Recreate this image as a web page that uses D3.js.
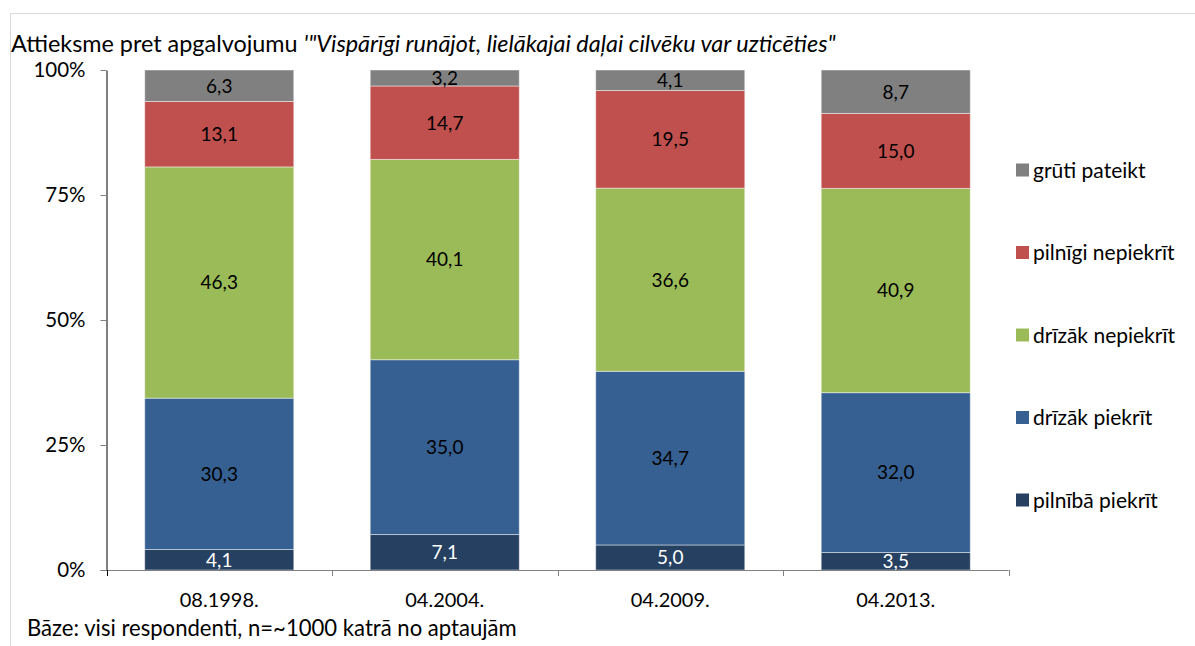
<!DOCTYPE html>
<html>
<head>
<meta charset="utf-8">
<script src="https://cdn.jsdelivr.net/npm/d3@7"></script>
<style>
  body { margin: 0; background: #fff; }
  svg { font-family: Lato, "Open Sans", sans-serif; }
</style>
</head>
<body>
<svg width="1195" height="646"></svg>
<script>
// data
const periods = ['08.1998.', '04.2004.', '04.2009.', '04.2013.'];
const answers = ['pilnībā piekrīt', 'drīzāk piekrīt', 'drīzāk nepiekrīt', 'pilnīgi nepiekrīt', 'grūti pateikt'];
const fullyAgree = [4.1, 7.1, 5.0, 3.5];
const ratherAgree = [30.3, 35.0, 34.7, 32.0];
const ratherDisagree = [46.3, 40.1, 36.6, 40.9];
const fullyDisagree = [13.1, 14.7, 19.5, 15.0];
const hardToSay = [6.3, 3.2, 4.1, 8.7];
const yTicks = [0, 0.25, 0.5, 0.75, 1];

const colors = ['#254061', '#376092', '#9bbb59', '#c0504d', '#808080'];
const labelColors = ['#fff', '#000', '#000', '#000', '#000'];

const svg = d3.select('svg');

const rows = periods.map((p, i) => ({
  period: p,
  [answers[0]]: fullyAgree[i],
  [answers[1]]: ratherAgree[i],
  [answers[2]]: ratherDisagree[i],
  [answers[3]]: fullyDisagree[i],
  [answers[4]]: hardToSay[i]
}));

// 100% stacked, like the spreadsheet does it
const stacked = d3.stack().keys(answers).offset(d3.stackOffsetExpand)(rows);

const plot = { left: 106.5, right: 1008.5, top: 70, bottom: 570 };

const xScale = d3.scaleBand()
  .domain(periods)
  .range([plot.left, plot.right])
  .paddingInner(0.339)
  .paddingOuter(0.1695);

const yScale = d3.scaleLinear().domain([0, 1]).range([plot.bottom, plot.top]);

// frame
svg.append('path')
  .attr('d', 'M10.5,646 V13.5 H1195')
  .attr('fill', 'none')
  .attr('stroke', '#d9d9d9')
  .attr('stroke-width', 1);

// title
const title = svg.append('text')
  .attr('x', 11)
  .attr('y', 52)
  .attr('font-size', 23.4)
  .attr('fill', '#000');
title.append('tspan').text('Attieksme pret apgalvojumu ');
title.append('tspan').attr('font-style', 'italic').text('\'"Vispārīgi runājot, lielākajai daļai cilvēku var uzticēties"');

// bars
const layers = svg.append('g').selectAll('g')
  .data(stacked)
  .join('g')
  .attr('fill', (d, i) => colors[i]);

layers.selectAll('rect')
  .data(d => d)
  .join('rect')
  .attr('x', d => xScale(d.data.period))
  .attr('width', xScale.bandwidth())
  .attr('y', d => yScale(d[1]))
  .attr('height', d => yScale(d[0]) - yScale(d[1]))
  .attr('stroke', 'rgba(255,255,255,0.45)')
  .attr('stroke-width', 1);

// value labels
stacked.forEach((layer, i) => {
  svg.append('g').selectAll('text')
    .data(layer)
    .join('text')
    .attr('x', d => xScale(d.data.period) + xScale.bandwidth() / 2)
    .attr('y', d => (yScale(d[0]) + yScale(d[1])) / 2)
    .attr('dy', '0.36em')
    .attr('text-anchor', 'middle')
    .attr('font-size', 19)
    .attr('fill', labelColors[i])
    .text(d => d3.format('.1f')(d.data[layer.key]).replace('.', ','));
});

// y axis
const yAxis = svg.append('g')
  .attr('transform', `translate(${plot.left},0)`)
  .call(d3.axisLeft(yScale).tickValues(yTicks).tickFormat(d3.format('.0%')).tickSize(6).tickPadding(15).tickSizeOuter(0));
yAxis.select('.domain').attr('stroke', '#000');
yAxis.selectAll('.tick line').attr('stroke', '#808080');
yAxis.selectAll('.tick text').attr('font-size', 20.5).attr('fill', '#000').attr('font-family', 'Lato');

// x axis with ticks on category borders
const step = xScale.step();
const xAxis = svg.append('g');
xAxis.append('line')
  .attr('x1', plot.left - 6).attr('x2', plot.right)
  .attr('y1', plot.bottom + 0.5).attr('y2', plot.bottom + 0.5)
  .attr('stroke', '#808080');
xAxis.selectAll('line.tick')
  .data(d3.range(periods.length + 1))
  .join('line')
  .attr('class', 'tick')
  .attr('x1', i => Math.round(plot.left + i * step) + 0.5)
  .attr('x2', i => Math.round(plot.left + i * step) + 0.5)
  .attr('y1', plot.bottom)
  .attr('y2', plot.bottom + 6)
  .attr('stroke', i => i === 0 ? '#000' : '#808080');
xAxis.selectAll('text')
  .data(periods)
  .join('text')
  .attr('x', d => xScale(d) + xScale.bandwidth() / 2)
  .attr('y', 607)
  .attr('text-anchor', 'middle')
  .attr('font-size', 20)
  .attr('fill', '#000')
  .text(d => d);
yAxis.raise();

// legend
const legendRows = [...answers].reverse();
const legend = svg.append('g').selectAll('g')
  .data(legendRows)
  .join('g')
  .attr('transform', (d, i) => `translate(1016,${170 + i * 82.5})`);
legend.append('rect')
  .attr('x', 0).attr('y', -6.5)
  .attr('width', 13).attr('height', 13)
  .attr('fill', d => colors[answers.indexOf(d)]);
legend.append('text')
  .attr('x', 17)
  .attr('dy', '0.36em')
  .attr('font-size', 21)
  .attr('fill', '#000')
  .text(d => d);

// footnote
svg.append('text')
  .attr('x', 27)
  .attr('y', 636)
  .attr('font-size', 22.1)
  .attr('fill', '#000')
  .text('Bāze: visi respondenti, n=~1000 katrā no aptaujām');
</script>
</body>
</html>
